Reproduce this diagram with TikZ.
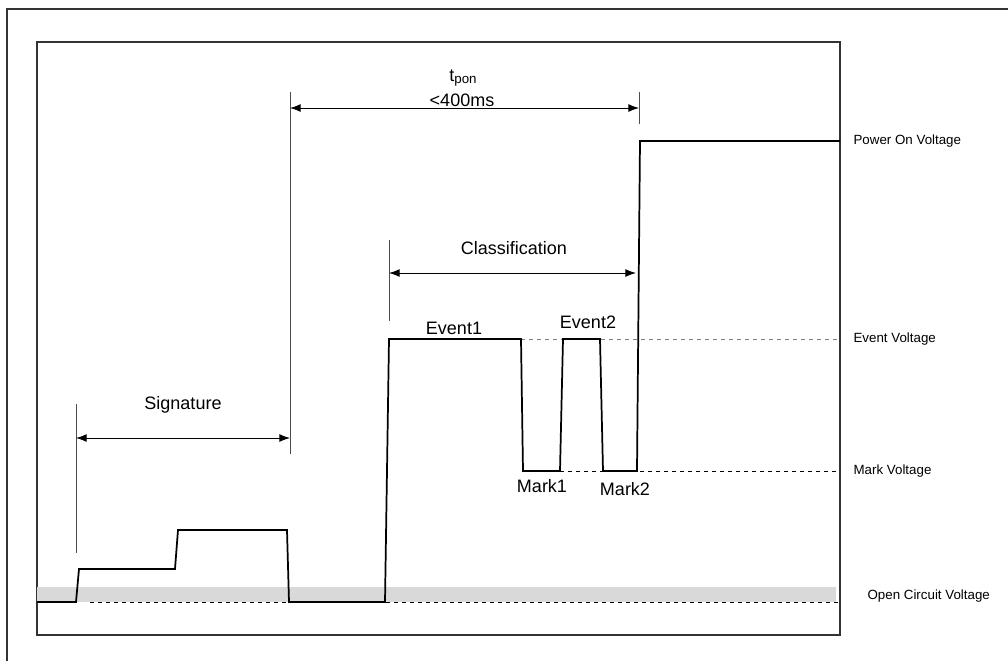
\documentclass[tikz,border=0pt]{standalone}
\usepackage{fontspec}
\setmainfont{Liberation Sans}
\usetikzlibrary{arrows.meta, positioning}

\begin{document}
\begin{tikzpicture}[
    x=0.75pt, y=-0.75pt,
    every node/.style={font=\fontsize{13.5}{16}\selectfont, inner sep=1pt},
    side/.style={font=\fontsize{10}{12}\selectfont, anchor=west},
    signal/.style={line width=1.3pt, line join=miter},
    voltline/.style={dashed, line width=0.6pt},
    dimtick/.style={line width=0.6pt, black!70},
    dim/.style={<->, line width=0.7pt, >={Latex[length=8pt,width=6pt]}}
]
\useasboundingbox (0,0) rectangle (1008,661);

% Frames
\draw[line width=0.8pt, black!80] (7,661) -- (7,9) -- (1008,9);
\draw[line width=0.8pt, black!80] (37,42) rectangle (840,635);

% Open circuit band
\fill[black!15] (37,587) rectangle (836,602);

% Voltage levels
\draw[voltline, gray] (521,339) -- (840,339);
\draw[voltline] (560,471) -- (840,471);
\draw[voltline] (90,602) -- (840,602);

% Waveform
\draw[signal] (37,602) -- (76,602) -- (79,569) -- (175,569) -- (178,530) -- (287,530)
    -- (289,602) -- (385,602) -- (389,339) -- (521,339) -- (523,471) -- (560,471)
    -- (563,339) -- (600,339) -- (603,471) -- (637,471) -- (640,141) -- (840,141);

% Dimension marks
\coordinate (sigstart) at (76,438);
\coordinate (sigend) at (290,438);
\coordinate (ponstart) at (290,108);
\coordinate (ponend) at (639,108);
\coordinate (clsstart) at (389,273);
\coordinate (clsend) at (636,273);

\draw[dimtick] (76,404) -- (76,553);
\draw[dimtick] (290,92) -- (290,454);
\draw[dimtick] (639,92) -- (639,124);
\draw[dimtick] (389,240) -- (389,321);

\draw[dim] (sigstart) -- (sigend);
\draw[dim] (ponstart) -- (ponend);
\draw[dim] (clsstart) -- (clsend);

% Labels
\node (sig) at (183,405) {Signature};
\node (tpon) at (463,78) {t{\fontsize{10}{12}\selectfont\raisebox{-1.5pt}{pon}}};
\node (limit) at (462,100) {<400ms};
\node (cls) at (514,248) {Classification};
\node (ev1) at (454,328) {Event1};
\node (ev2) at (588,322) {Event2};
\node (mk1) at (542,486) {Mark1};
\node (mk2) at (625,489) {Mark2};

% Level names
\node[side] (pwr) at (852,141) {Power On Voltage};
\node[side] (evt) at (852,339) {Event Voltage};
\node[side] (mrk) at (852,471) {Mark Voltage};
\node[side] (opc) at (866,596) {Open Circuit Voltage};

\end{tikzpicture}
\end{document}
